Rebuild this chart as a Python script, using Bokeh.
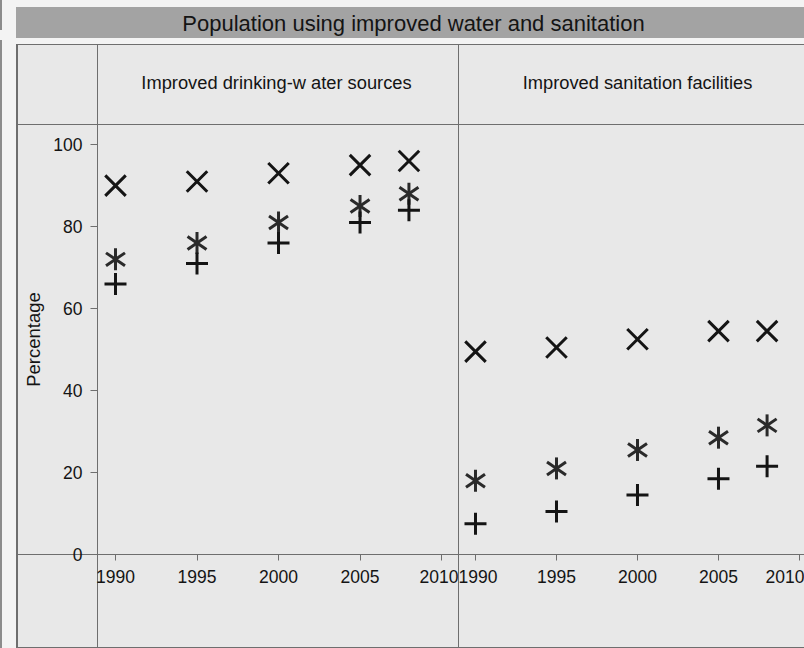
import math
from bokeh.plotting import figure
from bokeh.layouts import column, row
from bokeh.models import ColumnDataSource, Range1d, FixedTicker
from bokeh.core.properties import value
from bokeh.embed import file_html
from bokeh.resources import INLINE

# ---------------- data ----------------
title_text = "Population using improved water and sanitation"
panel_titles = ["Improved drinking-w ater sources", "Improved sanitation facilities"]
y_label = "Percentage"
years = [1990, 1995, 2000, 2005, 2008]
water_x = [90, 91, 93, 95, 96]
water_star = [72, 76, 81, 85, 88]
water_plus = [66, 71, 76, 81, 84]
san_x = [49.5, 50.5, 52.5, 54.5, 54.5]
san_star = [18, 21, 25.5, 28.5, 31.5]
san_plus = [7.5, 10.5, 14.5, 18.5, 21.5]
x_ticks = [1990, 1995, 2000, 2005, 2010]
y_ticks = [0, 20, 40, 60, 80, 100]

# ---------------- style ----------------
FONT = "Liberation Sans"
CELL = "#e8e8e8"
PAPER = "#f3f3f3"
BAR = "#a3a3a3"
LINE = "#6e6e6e"
INK = "#141414"


def layer(color, x, y, w, h):
    return f"linear-gradient({color},{color}) {x}px {y}px / {w}px {h}px no-repeat"


# page chrome (title bar, table cells and rules) as the container background
chrome = ", ".join([
    layer("#8c8c8c", 0, 0, 2, 30),
    layer("#8c8c8c", 0, 40, 2, 608),
    layer(BAR, 16, 7, 788, 31),
    layer(LINE, 16, 44, 788, 1),
    layer(LINE, 16, 44, 2, 604),
    layer(LINE, 97, 44, 1, 604),
    layer(LINE, 458, 44, 1, 604),
    layer(LINE, 16, 124, 788, 1),
    layer(LINE, 16, 554, 788, 1),
    layer(LINE, 16, 647, 788, 1),
    layer(CELL, 16, 44, 788, 604),
    PAPER,
])


def blank(fig):
    fig.grid.grid_line_color = None
    fig.outline_line_color = None
    fig.background_fill_alpha = 0
    fig.border_fill_alpha = 0


# ---------------- title + header strip ----------------
top = figure(width=804, height=124, x_range=Range1d(0, 804), y_range=Range1d(124, 0),
             output_backend="svg", toolbar_location=None, title=None,
             x_axis_location=None, y_axis_location=None, min_border=0)
blank(top)
top.text(x=[413], y=[23], text=[title_text], text_align="center", text_baseline="middle",
         text_font=value(FONT), text_font_size="22px", text_color=INK)
top.text(x=[276, 637], y=[82, 82], text=panel_titles, text_align="center",
         text_baseline="middle", text_font=value(FONT), text_font_size="18.3px",
         text_color=INK)


def make_panel(width, x_start, x_end, y_range, with_yaxis, min_left):
    kw = dict(width=width, height=524, x_range=Range1d(x_start, x_end), y_range=y_range,
              output_backend="svg", toolbar_location=None, title=None,
              min_border_left=min_left, min_border_right=0, min_border_top=0,
              min_border_bottom=94)
    if not with_yaxis:
        kw["y_axis_location"] = None
    f = figure(**kw)
    blank(f)
    ax = f.xaxis[0]
    ax.ticker = FixedTicker(ticks=x_ticks)
    ax.major_tick_out = 6
    ax.major_tick_in = 0
    ax.minor_tick_line_color = None
    ax.major_tick_line_color = LINE
    ax.axis_line_color = None
    ax.major_label_text_font = FONT
    ax.major_label_text_font_size = "17.5px"
    ax.major_label_text_color = INK
    ax.major_label_standoff = 9
    if with_yaxis:
        ay = f.yaxis[0]
        ay.ticker = FixedTicker(ticks=y_ticks)
        ay.major_tick_out = 7
        ay.major_tick_in = 0
        ay.minor_tick_line_color = None
        ay.major_tick_line_color = LINE
        ay.axis_line_color = None
        ay.major_label_text_font = FONT
        ay.major_label_text_font_size = "17.5px"
        ay.major_label_text_color = INK
        ay.major_label_standoff = 8
        ay.axis_label = y_label
        ay.axis_label_text_font = FONT
        ay.axis_label_text_font_style = "normal"
        ay.axis_label_text_font_size = "18.5px"
        ay.axis_label_text_color = INK
        ay.axis_label_standoff = 6
    return f


def add_points(f, src):
    f.scatter(x="year", y="x", source=src, marker="x", size=29, line_width=3,
              line_color=INK)
    for ang, sz in ((math.pi / 2, 22), (0.6, 23), (-0.6, 23)):
        f.scatter(x="year", y="star", source=src, marker="dash", size=sz, angle=ang,
                  line_width=3, line_color="#2a2a2a")
    f.scatter(x="year", y="plus", source=src, marker="cross", size=22, line_width=3,
              line_color=INK)


y_range = Range1d(0, 104.9)
f1 = make_panel(458, 1988.896, 2011.04, y_range, True, 97)
f2 = make_panel(346, 1988.951, 2010.31, y_range, False, 0)

src1 = ColumnDataSource(dict(year=years, x=water_x, star=water_star, plus=water_plus))
src2 = ColumnDataSource(dict(year=years, x=san_x, star=san_star, plus=san_plus))
add_points(f1, src1)
add_points(f2, src2)

layout = column(top, row(f1, f2), styles={"background": chrome})
open("out.html", "w").write(file_html(layout, INLINE))
